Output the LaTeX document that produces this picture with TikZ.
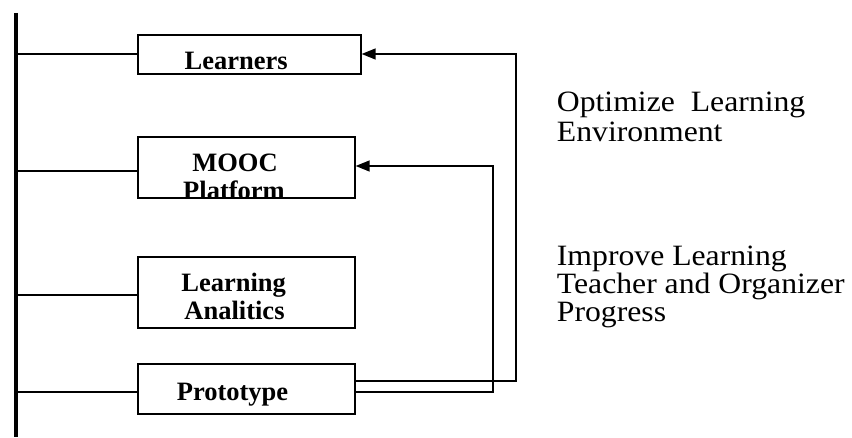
\documentclass[tikz,border=0pt]{standalone}
\usepackage{fontspec}
\setmainfont{Liberation Serif}
\usetikzlibrary{arrows.meta}
\begin{document}
\begin{tikzpicture}[x=1pt,y=1pt,
  box/.style={draw,line width=1.3pt,inner sep=0pt},
  boxtext/.style={font=\bfseries\fontsize{26.5}{28}\selectfont,align=center,inner sep=0pt},
  sidetext/.style={font=\fontsize{29.5}{30}\selectfont,align=left,inner sep=0pt,xscale=1.075},
  conn/.style={line width=1.4pt},
  arr/.style={conn,-{Triangle[length=14pt,width=11pt]}}]
\useasboundingbox (0,0) rectangle (852,437);
% main bar
\coordinate (bartop) at (16,424);
\coordinate (barbot) at (16,0);
\draw[line width=3.5pt] (bartop) -- (barbot);
% boxes
\node[box,minimum width=223pt,minimum height=39pt] (Lr) at (249.5,382.5) {};
\node[box,minimum width=217pt,minimum height=61pt] (M) at (246.5,269.5) {};
\node[box,minimum width=217pt,minimum height=71pt] (LA) at (246.5,144.5) {};
\node[box,minimum width=217pt,minimum height=50pt] (P) at (246.5,48) {};
% box texts
\node[boxtext,anchor=base] (tLr) at (236.2,367.7) {Learners};
\begin{scope}
\clip (M.south west) rectangle (M.north east);
\node[boxtext,anchor=base] (tM1) at (235,265) {MOOC};
\node[boxtext,anchor=base] (tM2) at (234,237) {Platform};
\end{scope}
\node[boxtext,anchor=base] (tLA1) at (233.7,146) {Learning};
\node[boxtext,anchor=base] (tLA2) at (234.5,117.7) {Analitics};
\node[boxtext,anchor=base] (tP) at (232.5,37) {Prototype};
% attachment points
\coordinate (Lrw) at ([yshift=0.5pt]Lr.west);
\coordinate (Mw) at ([yshift=-3.5pt]M.west);
\coordinate (LAw) at ([yshift=-2.5pt]LA.west);
\coordinate (Pw) at ([yshift=-3pt]P.west);
\coordinate (Pe1) at ([yshift=8pt]P.east);
\coordinate (Pe2) at ([yshift=-3pt]P.east);
\coordinate (Lre) at ([yshift=0.5pt]Lr.east);
\coordinate (Me) at ([yshift=1.5pt]M.east);
% left connectors
\draw[conn] (bartop |- Lrw) -- (Lrw);
\draw[conn] (bartop |- Mw) -- (Mw);
\draw[conn] (bartop |- LAw) -- (LAw);
\draw[conn] (bartop |- Pw) -- (Pw);
% right feedback connectors
\coordinate (c1a) at (516,56);
\coordinate (c1b) at (516,383);
\coordinate (c2a) at (493,45);
\coordinate (c2b) at (493,271);
\draw[arr] (Pe1) -- (c1a) -- (c1b) -- (Lre);
\draw[arr] (Pe2) -- (c2a) -- (c2b) -- (Me);
% side texts
\node[sidetext,anchor=base west] (opt1) at (556.7,325.5) {Optimize~~Learning};
\node[sidetext,anchor=base west] (opt2) at (556.7,295) {Environment};
\node[sidetext,anchor=base west] (imp1) at (556.7,171) {Improve Learning};
\node[sidetext,anchor=base west] (imp2) at (556.7,143.5) {Teacher and Organizer};
\node[sidetext,anchor=base west] (imp3) at (556.7,115) {Progress};
\end{tikzpicture}
\end{document}
